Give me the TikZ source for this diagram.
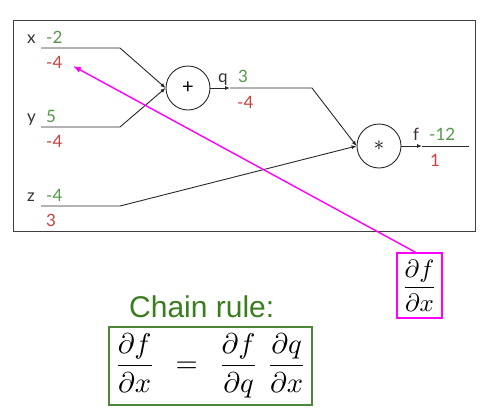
\documentclass[tikz,border=0pt]{standalone}
\usepackage{fontspec}
\usepackage{graphicx}
\setmainfont{Lato}
\newfontfamily\chainfont{Liberation Sans}
\usetikzlibrary{arrows.meta}
\definecolor{valgreen}{RGB}{85,150,75}
\definecolor{gradred}{RGB}{200,65,65}
\definecolor{chaingreen}{RGB}{58,125,30}
\definecolor{boxgreen}{RGB}{75,135,55}
\definecolor{wiregray}{RGB}{40,40,40}
\definecolor{pureMagenta}{RGB}{255,0,255}
\begin{document}
\begin{tikzpicture}[x=1pt,y=-1pt,
  lbl/.style={anchor=base west,inner sep=0pt,font=\fontsize{17}{20}\selectfont,text=black!80},
  val/.style={lbl,text=valgreen},
  grad/.style={lbl,text=gradred},
  wire/.style={draw=wiregray,line width=0.9pt},
  tip/.style={-{Latex[length=5pt,width=4pt]}},
  gate/.style={circle,draw=wiregray,line width=0.9pt,minimum size=44pt,inner sep=0pt,font=\fontsize{20}{22}\selectfont}]
\useasboundingbox (0,0) rectangle (485,418);
\draw[draw=black!75,line width=0.9pt] (13,20) rectangle (475,231);
% gates
\node[gate] (plus) at (188,88) {+};
\node[gate] (times) at (379,146) {$\ast$};
% input coordinates
\coordinate (x0) at (41,48);  \coordinate (x1) at (120,48);
\coordinate (y0) at (41,127); \coordinate (y1) at (120,127);
\coordinate (z0) at (41,206); \coordinate (z1) at (120,206);
\coordinate (qm) at (230,88); \coordinate (q1) at (312,88);
\coordinate (fm) at (422,146); \coordinate (f1) at (469,146);
% wires
\draw[wire,tip] (x0) -- (x1) -- (plus.west);
\draw[wire,tip] (y0) -- (y1) -- (plus.west);
\draw[wire,tip] (z0) -- (z1) -- (times.west);
\draw[wire,tip] (plus.east) -- (qm);
\draw[wire,tip] (qm) -- (q1) -- (times.west);
\draw[wire,tip] (times.east) -- (fm);
\draw[wire] (fm) -- (f1);
% labels
\node[lbl] (lx) at (27,43) {x};
\node[val] (vx) at (46,43) {-2};
\node[grad] (gx) at (46,68) {-4};
\node[lbl] (ly) at (27,122) {y};
\node[val] (vy) at (46,122) {5};
\node[grad] (gy) at (46,147) {-4};
\node[lbl] (lz) at (27,201) {z};
\node[val] (vz) at (46,201) {-4};
\node[grad] (gz) at (46,226) {3};
\node[lbl] (lq) at (218,82) {q};
\node[val] (vq) at (238,82) {3};
\node[grad] (gq) at (237,108) {-4};
\node[lbl] (lf) at (413,140) {f};
\node[val] (vf) at (429,140) {-12};
\node[grad] (gf) at (430,166) {1};
% magenta box and arrow
\node[draw=pureMagenta,line width=1.4pt,minimum width=45pt,minimum height=65pt,inner sep=0pt] (mbox) at (419.5,285.5)
  {\scalebox{2.5}{$\displaystyle\frac{\partial f}{\partial x}$}};
\coordinate (xg) at (73,66);
\draw[pureMagenta,line width=1.4pt,-{Latex[length=8pt,width=6pt]}] ([xshift=-4pt]mbox.north) -- (xg);
% chain rule
\node[anchor=base west,inner sep=0pt,text=chaingreen,font=\chainfont\fontsize{30}{34}\selectfont] (chain) at (129,317) {Chain rule:};
\node[draw=boxgreen,line width=1.4pt,minimum width=203pt,minimum height=78pt,inner sep=0pt] (eq) at (210.5,366)
  {\scalebox{2.85}{$\displaystyle\frac{\partial f}{\partial x}\;\,=\;\,\frac{\partial f}{\partial q}\;\frac{\partial q}{\partial x}$}};
\end{tikzpicture}
\end{document}
